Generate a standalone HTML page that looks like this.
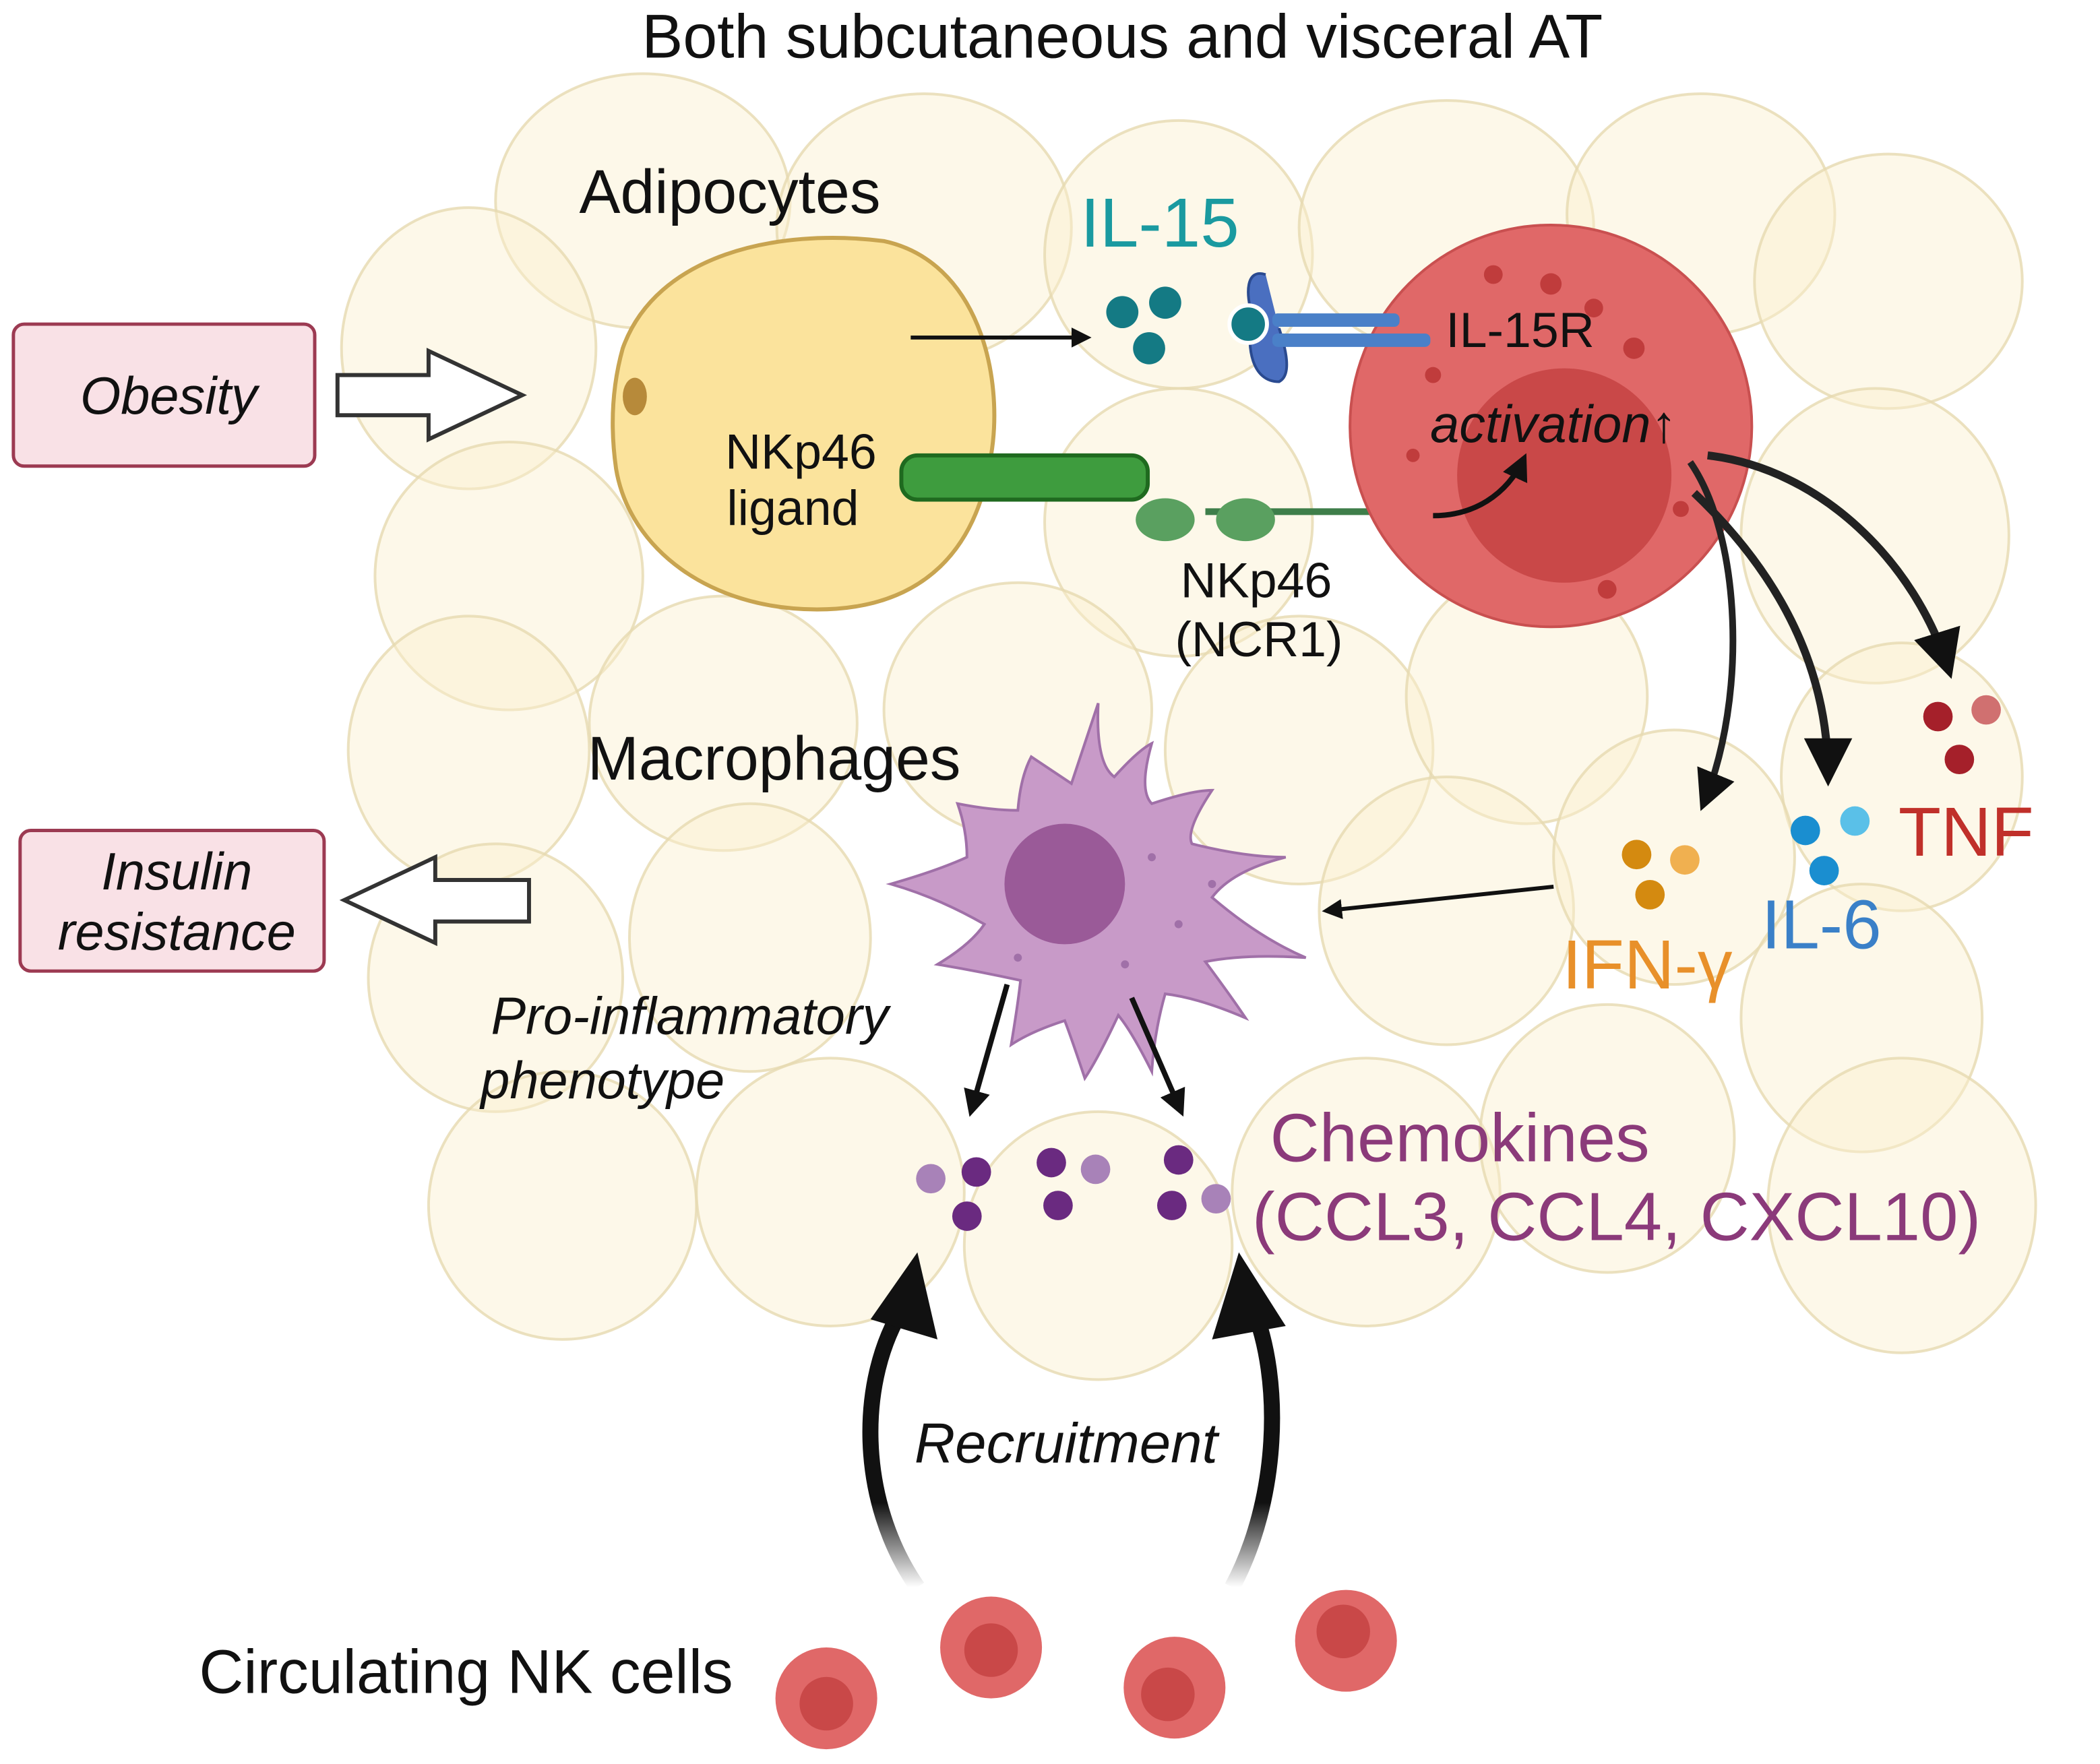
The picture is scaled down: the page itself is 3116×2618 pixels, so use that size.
<!DOCTYPE html>
<html><head><meta charset="utf-8"><style>
html,body{margin:0;padding:0;background:#fff;}
svg{display:block;width:3116px;height:2618px;}
text{font-family:"Liberation Sans",sans-serif;}
</style></head><body>
<svg viewBox="0 0 1568 1317" preserveAspectRatio="none" xmlns="http://www.w3.org/2000/svg">
<defs>
<marker id="ah" viewBox="0 0 10 10" refX="8" refY="5" markerWidth="6" markerHeight="6" orient="auto"><path d="M0,0L10,5L0,10z" fill="#111"/></marker>
<marker id="ahb" viewBox="0 0 10 10" refX="8" refY="5" markerWidth="5" markerHeight="5" orient="auto"><path d="M0,0L10,5L0,10z" fill="#111"/></marker>
<linearGradient id="fade" x1="0" y1="1" x2="0" y2="0"><stop offset="0" stop-color="#111" stop-opacity="0"/><stop offset="0.3" stop-color="#111"/></linearGradient>
</defs>
<g fill="#fbf0cf" fill-opacity="0.45" stroke="#e6d9b0" stroke-width="2" stroke-opacity="0.8">
<ellipse cx="480" cy="150" rx="110" ry="95"/><ellipse cx="690" cy="170" rx="110" ry="100"/>
<ellipse cx="880" cy="190" rx="100" ry="100"/><ellipse cx="1080" cy="170" rx="110" ry="95"/>
<ellipse cx="1270" cy="160" rx="100" ry="90"/><ellipse cx="1410" cy="210" rx="100" ry="95"/>
<ellipse cx="350" cy="260" rx="95" ry="105"/><ellipse cx="380" cy="430" rx="100" ry="100"/>
<ellipse cx="880" cy="390" rx="100" ry="100"/><ellipse cx="1400" cy="400" rx="100" ry="110"/>
<ellipse cx="350" cy="560" rx="90" ry="100"/><ellipse cx="540" cy="540" rx="100" ry="95"/>
<ellipse cx="760" cy="530" rx="100" ry="95"/><ellipse cx="970" cy="560" rx="100" ry="100"/>
<ellipse cx="1140" cy="520" rx="90" ry="95"/><ellipse cx="1420" cy="580" rx="90" ry="100"/>
<ellipse cx="370" cy="730" rx="95" ry="100"/><ellipse cx="560" cy="700" rx="90" ry="100"/>
<ellipse cx="1080" cy="680" rx="95" ry="100"/><ellipse cx="1250" cy="640" rx="90" ry="95"/>
<ellipse cx="1390" cy="760" rx="90" ry="100"/><ellipse cx="420" cy="900" rx="100" ry="100"/>
<ellipse cx="620" cy="890" rx="100" ry="100"/><ellipse cx="820" cy="930" rx="100" ry="100"/>
<ellipse cx="1020" cy="890" rx="100" ry="100"/><ellipse cx="1200" cy="850" rx="95" ry="100"/>
<ellipse cx="1420" cy="900" rx="100" ry="110"/>
</g>
<text x="838" y="43" font-size="46" text-anchor="middle" fill="#111">Both subcutaneous and visceral AT</text>
<rect x="10" y="242" width="225" height="106" rx="8" fill="#f9e1e6" stroke="#9c3a52" stroke-width="2.5"/>
<text x="126" y="309" font-size="39" font-style="italic" text-anchor="middle" fill="#111">Obesity</text>
<path d="M252,280H320V262L390,295L320,328V310H252z" fill="#fff" stroke="#333" stroke-width="3"/>
<rect x="15" y="620" width="227" height="105" rx="8" fill="#f9e1e6" stroke="#9c3a52" stroke-width="2.5"/>
<text x="132" y="664" font-size="39" font-style="italic" text-anchor="middle" fill="#111">Insulin</text>
<text x="132" y="709" font-size="39" font-style="italic" text-anchor="middle" fill="#111">resistance</text>
<path d="M395,657H325V640L257,672L325,704V688H395z" fill="#fff" stroke="#333" stroke-width="3"/>
<path d="M465,260C490,190 580,170 660,180C730,195 750,280 740,340C730,410 690,455 610,455C530,455 470,410 460,350C455,315 458,285 465,260z" fill="#fbe39c" stroke="#c8a450" stroke-width="3"/>
<ellipse cx="474" cy="296" rx="9" ry="14" fill="#b78a3a"/>
<text x="545" y="159" font-size="46" text-anchor="middle" fill="#111">Adipocytes</text>
<text x="598" y="350" font-size="37" text-anchor="middle" fill="#111">NKp46</text>
<text x="592" y="392" font-size="37" text-anchor="middle" fill="#111">ligand</text>
<rect x="673" y="340" width="184" height="33" rx="12" fill="#3e9c3e" stroke="#1f6a1f" stroke-width="3"/>
<line x1="900" y1="382" x2="1052" y2="382" stroke="#3e7e4a" stroke-width="5"/>
<ellipse cx="870" cy="388" rx="22" ry="16" fill="#5aa060"/><ellipse cx="930" cy="388" rx="22" ry="16" fill="#5aa060"/>
<text x="938" y="446" font-size="37" text-anchor="middle" fill="#111">NKp46</text>
<text x="940" y="490" font-size="37" text-anchor="middle" fill="#111">(NCR1)</text>
<line x1="680" y1="252" x2="812" y2="252" stroke="#111" stroke-width="3" marker-end="url(#ahb)"/>
<text x="866" y="184" font-size="52" text-anchor="middle" fill="#1a9aa0">IL-15</text>
<g fill="#147a84"><circle cx="838" cy="233" r="12"/><circle cx="870" cy="226" r="12"/><circle cx="858" cy="260" r="12"/></g>
<circle cx="1158" cy="318" r="150" fill="#e06868" stroke="#c95050" stroke-width="2"/>
<circle cx="1168" cy="355" r="80" fill="#c94848"/>
<g fill="#c03c3c"><circle cx="1115" cy="205" r="7"/><circle cx="1158" cy="212" r="8"/><circle cx="1190" cy="230" r="7"/><circle cx="1220" cy="260" r="8"/><circle cx="1070" cy="280" r="6"/><circle cx="1255" cy="380" r="6"/><circle cx="1200" cy="440" r="7"/><circle cx="1055" cy="340" r="5"/></g>
<path d="M945,205C930,200 930,220 935,235C930,260 935,285 955,285C965,280 960,260 955,245" fill="#4a6fc0" stroke="#2a4a90" stroke-width="2"/>
<rect x="950" y="234" width="95" height="10" rx="4" fill="#4a80c8"/><rect x="950" y="249" width="118" height="10" rx="4" fill="#4a80c8"/>
<circle cx="932" cy="242" r="14" fill="#147a84" stroke="#fff" stroke-width="3"/>
<text x="1135" y="259" font-size="37" text-anchor="middle" fill="#111">IL-15R</text>
<text x="1160" y="330" font-size="39" font-style="italic" text-anchor="middle" fill="#111">activation↑</text>
<path d="M1070,385C1100,385 1125,370 1138,342" fill="none" stroke="#111" stroke-width="4" marker-end="url(#ahb)"/>
<path d="M1262,345C1300,400 1305,520 1272,600" fill="none" stroke="#222" stroke-width="5" marker-end="url(#ah)"/>
<path d="M1265,368C1330,430 1365,500 1365,580" fill="none" stroke="#222" stroke-width="6" marker-end="url(#ah)"/>
<path d="M1275,340C1360,350 1430,420 1455,500" fill="none" stroke="#222" stroke-width="6" marker-end="url(#ah)"/>
<circle cx="1447" cy="535" r="11" fill="#a5202a"/><circle cx="1483" cy="530" r="11" fill="#d07070"/><circle cx="1463" cy="567" r="11" fill="#a5202a"/>
<text x="1468" y="639" font-size="52" text-anchor="middle" fill="#c0302a">TNF</text>
<circle cx="1348" cy="620" r="11" fill="#1a8ed0"/><circle cx="1385" cy="613" r="11" fill="#5ac0e8"/><circle cx="1362" cy="650" r="11" fill="#1a8ed0"/>
<text x="1360" y="708" font-size="52" text-anchor="middle" fill="#3a80c8">IL-6</text>
<circle cx="1222" cy="638" r="11" fill="#d48a10"/><circle cx="1258" cy="642" r="11" fill="#f0b050"/><circle cx="1232" cy="668" r="11" fill="#d48a10"/>
<text x="1230" y="738" font-size="52" text-anchor="middle" fill="#e8902a">IFN-γ</text>
<line x1="1160" y1="662" x2="990" y2="680" stroke="#111" stroke-width="3" marker-end="url(#ahb)"/>
<path d="M820,525Q818,570 832,580Q850,560 860,555Q850,590 860,600Q890,590 905,590Q885,620 890,630Q930,640 960,640Q920,650 905,670Q940,700 975,715Q930,712 900,718Q920,745 930,760Q895,745 870,742Q862,770 860,800Q845,770 835,758Q820,790 810,805Q800,775 795,762Q770,770 755,780Q760,750 762,732Q730,725 700,720Q725,705 735,690Q700,670 665,660Q700,650 722,640Q722,620 715,600Q740,605 760,605Q762,580 770,565Q785,575 800,585Q810,555 820,525z" fill="#c89ac8" stroke="#a070a8" stroke-width="2"/>
<circle cx="795" cy="660" r="45" fill="#9a5a98"/>
<g fill="#a070a8"><circle cx="860" cy="640" r="3"/><circle cx="880" cy="690" r="3"/><circle cx="840" cy="720" r="3"/><circle cx="760" cy="715" r="3"/><circle cx="905" cy="660" r="3"/></g>
<text x="578" y="582" font-size="46" text-anchor="middle" fill="#111">Macrophages</text>
<text x="515" y="772" font-size="39" font-style="italic" text-anchor="middle" fill="#111">Pro-inflammatory</text>
<text x="450" y="820" font-size="39" font-style="italic" text-anchor="middle" fill="#111">phenotype</text>
<line x1="752" y1="735" x2="725" y2="830" stroke="#111" stroke-width="4" marker-end="url(#ahb)"/>
<line x1="845" y1="745" x2="882" y2="830" stroke="#111" stroke-width="4" marker-end="url(#ahb)"/>
<g><circle cx="695" cy="880" r="11" fill="#a882b8"/><circle cx="729" cy="875" r="11" fill="#6a2a80"/><circle cx="722" cy="908" r="11" fill="#6a2a80"/>
<circle cx="785" cy="868" r="11" fill="#6a2a80"/><circle cx="818" cy="873" r="11" fill="#a882b8"/><circle cx="790" cy="900" r="11" fill="#6a2a80"/>
<circle cx="880" cy="866" r="11" fill="#6a2a80"/><circle cx="875" cy="900" r="11" fill="#6a2a80"/><circle cx="908" cy="895" r="11" fill="#a882b8"/></g>
<text x="1090" y="867" font-size="51" text-anchor="middle" fill="#8b3a7a">Chemokines</text>
<text x="1207" y="926" font-size="51" text-anchor="middle" fill="#8b3a7a">(CCL3, CCL4, CXCL10)</text>
<path d="M685,1185C640,1120 640,1030 675,975" fill="none" stroke="url(#fade)" stroke-width="12"/>
<path d="M650,985L685,935L700,1000z" fill="#111"/>
<path d="M920,1185C955,1120 958,1030 935,975" fill="none" stroke="url(#fade)" stroke-width="12"/>
<path d="M905,1000L925,935L960,990z" fill="#111"/>
<text x="796" y="1092" font-size="42" font-style="italic" text-anchor="middle" fill="#111">Recruitment</text>
<text x="348" y="1264" font-size="46" text-anchor="middle" fill="#111">Circulating NK cells</text>
<g><circle cx="617" cy="1268" r="38" fill="#e06868"/><circle cx="617" cy="1272" r="20" fill="#c94848"/>
<circle cx="740" cy="1230" r="38" fill="#e06868"/><circle cx="740" cy="1232" r="20" fill="#c94848"/>
<circle cx="877" cy="1260" r="38" fill="#e06868"/><circle cx="872" cy="1265" r="20" fill="#c94848"/>
<circle cx="1005" cy="1225" r="38" fill="#e06868"/><circle cx="1003" cy="1218" r="20" fill="#c94848"/></g>
</svg>
</body></html>
